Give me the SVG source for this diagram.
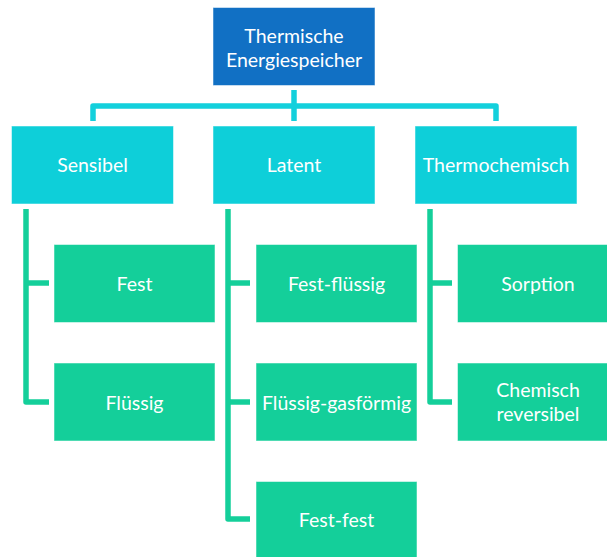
<svg xmlns="http://www.w3.org/2000/svg" width="607" height="557" viewBox="0 0 607 557">
<style>
.root{fill:#1170C4;stroke:#ffffff;stroke-width:1;stroke-opacity:0.5}
.l1{fill:#0ECFD9;stroke:#ffffff;stroke-width:1;stroke-opacity:0.5}
.leaf{fill:#14CF9A;stroke:#ffffff;stroke-width:1;stroke-opacity:0.5}
text{font-family:Lato,"Open Sans",sans-serif;font-size:19.5px;fill:#ffffff;text-anchor:middle;dominant-baseline:central}
.c1{fill:none;stroke:#13D0DC;stroke-width:5.5;stroke-linejoin:round;stroke-linecap:butt}
.c2{fill:none;stroke:#14CF9A;stroke-width:5.5;stroke-linejoin:round;stroke-linecap:butt}
</style>
<rect width="607" height="557" fill="#ffffff"/>
<g id="connectors">
<path class="c1" d="M294,90 V121"/>
<path class="c1" d="M93,121 V106 H496 V121"/>
<path class="c2" d="M26,209 V402 H49 M26,283 H49"/>
<path class="c2" d="M228,209 V519 H250 M228,283 H250 M228,402 H250"/>
<path class="c2" d="M430,209 V402 H452 M430,283 H452"/>
</g>
<g id="n-root"><rect class="root" x="213" y="7.5" width="162" height="78"/><text x="294" y="35">Thermische</text><text x="294" y="59">Energiespeicher</text></g>
<g id="n-sensibel"><rect class="l1" x="11.5" y="126" width="162" height="78"/><text x="92.5" y="164">Sensibel</text></g>
<g id="n-latent"><rect class="l1" x="213" y="126" width="162" height="78"/><text x="294" y="164">Latent</text></g>
<g id="n-thermo"><rect class="l1" x="415" y="126" width="162" height="78"/><text x="496" y="164">Thermochemisch</text></g>
<g id="n-fest"><rect class="leaf" x="54" y="244.5" width="161" height="78"/><text x="134.5" y="283">Fest</text></g>
<g id="n-fluessig"><rect class="leaf" x="54" y="363" width="161" height="78"/><text x="134.5" y="402">Flüssig</text></g>
<g id="n-festfluessig"><rect class="leaf" x="256" y="244.5" width="161" height="78"/><text x="336.5" y="283">Fest-flüssig</text></g>
<g id="n-fluessiggas"><rect class="leaf" x="256" y="363" width="161" height="78"/><text x="336.5" y="402">Flüssig-gasförmig</text></g>
<g id="n-festfest"><rect class="leaf" x="256" y="481.5" width="161" height="78"/><text x="336.5" y="519">Fest-fest</text></g>
<g id="n-sorption"><rect class="leaf" x="457.5" y="244.5" width="161" height="78"/><text x="538" y="283">Sorption</text></g>
<g id="n-chemisch"><rect class="leaf" x="457.5" y="363" width="161" height="78"/><text x="538" y="389">Chemisch</text><text x="538" y="413">reversibel</text></g>
</svg>
